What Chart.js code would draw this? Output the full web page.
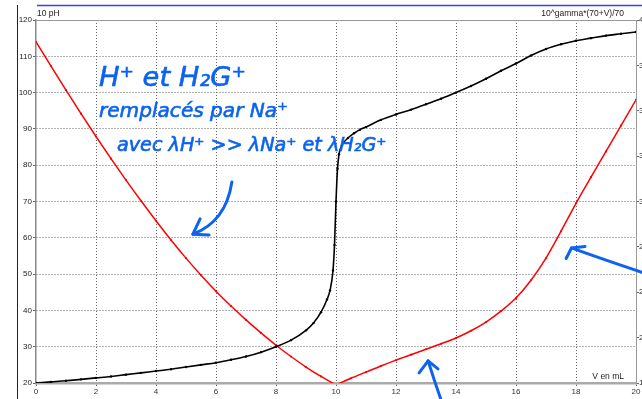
<!DOCTYPE html>
<html lang="fr">
<head>
<meta charset="UTF-8">
<title>Titrage pH et conductance</title>
<script src="https://cdn.jsdelivr.net/npm/chart.js@4.4.1/dist/chart.umd.min.js"></script>
<style>
    body{ margin:0; background:#fff; }
    #board{ width:642px; height:399px; }
</style>
</head>
<body>
<div id="board">
    <canvas id="chart1" width="642" height="399"></canvas>
</div>
<script>
    // volume versé (mL) et 10*pH
    const volPh = [0,0.5,1,1.5,2,2.5,3,3.5,4,4.5,5,5.5,6,6.5,7,7.5,8,8.5,9,9.25,9.5,9.7,9.8,9.9,9.95,
                   10,10.05,10.1,10.2,10.4,10.6,10.8,11,11.5,12,12.5,13,13.5,14,14.5,15,15.5,16,16.5,17,17.5,18,18.5,19,19.5,20];
    const ph10 = [20.0,20.3,20.6,21.0,21.4,21.8,22.3,22.8,23.3,23.8,24.4,25.0,25.6,26.4,27.3,28.5,30.0,31.8,34.5,36.5,39.5,43,45.5,51,58,
                  70,79,83,85.5,87.5,88.8,89.8,90.5,92.5,94,95.3,96.8,98.3,100,101.8,103.8,106,108,110.2,112,113.3,114.3,115,115.7,116.2,116.7];

    // volume versé (mL) et conductance corrigée (échelle gauche)
    const volCond = [0,0.5,1,1.5,2,2.5,3,3.5,4,4.5,5,5.5,6,6.5,7,7.5,8,8.5,9,9.5,10,
                     10.5,11,11.5,12,12.5,13,13.5,14,14.5,15,15.5,16,16.5,17,17.5,18,18.5,19,19.5,20];
    const cond = [114,107.3,100.7,94.2,87.9,81.8,75.9,70.2,64.7,59.4,54.4,49.7,45.3,41.2,37.4,33.8,30.4,27.3,24.4,21.8,19.5,
                  21.3,23.0,24.7,26.3,27.8,29.3,30.8,32.4,34.4,36.8,39.8,43.4,48.3,54.4,61.8,69.5,76.7,83.8,90.9,98];
    const vEquiv = 10;

    const xTicks = [0,2,4,6,8,10,12,14,16,18,20];
    const yTicks = [20,30,40,50,60,70,80,90,100,110,120];
    const y2Min = 1.99, y2Max = 4.02, y2Steps = 8;

    const txtFont = {family:'"Liberation Sans", Arial, sans-serif', size:8};

    // annotations manuscrites (en unités du graphe)
    const notes = [
        {text:'H⁺ et H₂G⁺', v:2.1, y:101.8, vEnd:7.0},
        {text:'remplacés par Na⁺', v:2.1, y:93.3, vEnd:8.4},
        {text:'avec λH⁺ >> λNa⁺ et λH₂G⁺', v:2.7, y:84.0, vEnd:11.7}
    ];
    const arrows = [
        {p0:[6.53,75.4], c:[6.33,64.4], p1:[5.23,61.0], h1:[5.47,65.2], h2:[5.77,60.8]},
        {p0:[13.5,15.4], c:[13.27,20.8], p1:[13.07,26.1], h1:[12.77,22.8], h2:[13.4,23.9]},
        {p0:[20.3,50.2], c:[18.7,54.6], p1:[17.85,57.2], h1:[17.67,54.3], h2:[18.3,57.6]}
    ];

    const decor = {
        id:'decor',
        afterDraw(chart){
            const ctx = chart.ctx, a = chart.chartArea;
            const sx = chart.scales.x, sy = chart.scales.y;
            const P = p => [sx.getPixelForValue(p[0]), sy.getPixelForValue(p[1])];
            ctx.save();
            // cadre haut
            ctx.strokeStyle = '#999'; ctx.lineWidth = 1;
            ctx.beginPath(); ctx.moveTo(a.left, a.top + 0.5); ctx.lineTo(a.right, a.top + 0.5); ctx.stroke();
            // barre bleue en haut, trait noir à gauche
            ctx.strokeStyle = '#3a3aff'; ctx.lineWidth = 1.5;
            ctx.beginPath(); ctx.moveTo(37, 5.5); ctx.lineTo(642, 5.5); ctx.stroke();
            ctx.strokeStyle = '#222'; ctx.lineWidth = 1;
            ctx.beginPath(); ctx.moveTo(17.5, 5); ctx.lineTo(17.5, 399); ctx.stroke();
            // titres d'axes
            ctx.fillStyle = '#222';
            ctx.font = '8.5px ' + txtFont.family;
            ctx.textBaseline = 'alphabetic';
            ctx.textAlign = 'left';
            ctx.fillText('10 pH', a.left + 1, 16);
            ctx.textAlign = 'right';
            ctx.fillText('10^gamma*(70+V)/70', a.right - 12, 16);
            ctx.fillText('V en mL', a.right - 12, a.bottom - 4);
            // annotations
            ctx.fillStyle = '#0b63f0';
            ctx.strokeStyle = '#0b63f0';
            ctx.textAlign = 'left';
            notes.forEach(n => {
                const [x0, y0] = P([n.v, n.y]);
                const x1 = sx.getPixelForValue(n.vEnd);
                ctx.font = 'italic 20px "DejaVu Sans", sans-serif';
                const w = ctx.measureText(n.text).width;
                const size = 20 * (x1 - x0) / w;
                ctx.font = 'italic ' + size.toFixed(1) + 'px "DejaVu Sans", sans-serif';
                ctx.fillText(n.text, x0, y0);
                ctx.lineWidth = 0.6;
                ctx.strokeText(n.text, x0, y0);
            });
            ctx.lineWidth = 3; ctx.lineCap = 'round'; ctx.lineJoin = 'round';
            arrows.forEach(ar => {
                const p0 = P(ar.p0), c = P(ar.c), p1 = P(ar.p1), h1 = P(ar.h1), h2 = P(ar.h2);
                ctx.beginPath();
                ctx.moveTo(p0[0], p0[1]);
                ctx.quadraticCurveTo(c[0], c[1], p1[0], p1[1]);
                ctx.stroke();
                ctx.beginPath();
                ctx.moveTo(h1[0], h1[1]); ctx.lineTo(p1[0], p1[1]); ctx.lineTo(h2[0], h2[1]);
                ctx.stroke();
            });
            ctx.restore();
        }
    };

    const condPts = volCond.map((v, i) => ({x:v, y:cond[i]}));
    const redStyle = {
        showLine:true, borderColor:'#ff0000', backgroundColor:'#ff0000',
        borderWidth:1.5, pointRadius:1.1, pointBorderWidth:0,
        cubicInterpolationMode:'monotone'
    };

    const ctx = document.getElementById('chart1').getContext('2d');
    new Chart(ctx, {
        type:'scatter',
        data:{
            datasets:[
                {
                    label:'10 pH',
                    data: volPh.map((v, i) => ({x:v, y:ph10[i]})),
                    showLine:true,
                    borderColor:'#000', backgroundColor:'#000',
                    borderWidth:1.6, pointRadius:1.2, pointBorderWidth:0,
                    cubicInterpolationMode:'monotone'
                },
                // conductance : deux branches pour garder la cassure à l'équivalence
                Object.assign({label:'conductance', data: condPts.filter(p => p.x <= vEquiv)}, redStyle),
                Object.assign({label:'conductance (après)', data: condPts.filter(p => p.x >= vEquiv)}, redStyle)
            ]
        },
        options:{
            responsive:false,
            animation:false,
            devicePixelRatio:1,
            layout:{ padding:{top:20, left:0, right:0, bottom:0} },
            plugins:{ legend:{display:false}, tooltip:{enabled:false} },
            scales:{
                x:{
                    type:'linear', position:'bottom', min:0, max:20,
                    afterBuildTicks: s => { s.ticks = xTicks.map(v => ({value:v})); },
                    afterFit: s => { s.height = 16; },
                    ticks:{ font:txtFont, color:'#333', padding:1, maxRotation:0, autoSkip:false },
                    grid:{
                        color: c => (c.tick && (c.tick.value === 0 || c.tick.value === 20)) ? 'rgba(0,0,0,0)' : '#666',
                        lineWidth:1, tickLength:3, tickColor:'#666'
                    },
                    border:{ color:'#aaa', width:2.5, dash:[1,2] }
                },
                y:{
                    position:'left', min:20, max:120,
                    afterBuildTicks: s => { s.ticks = yTicks.map(v => ({value:v})); },
                    afterFit: s => { s.width = 36; },
                    ticks:{ font:txtFont, color:'#222', padding:1 },
                    grid:{
                        color: c => (c.tick && (c.tick.value === 20 || c.tick.value === 120)) ? 'rgba(0,0,0,0)' : '#666',
                        lineWidth:1, tickLength:3, tickColor:'#666'
                    },
                    border:{ color:'#888', width:1.5, dash:[1,2] }
                },
                y2:{
                    position:'right', min:y2Min, max:y2Max,
                    afterBuildTicks: s => {
                        const t = [];
                        for (let i = 0; i <= y2Steps; i++) t.push({value: y2Min + i * (y2Max - y2Min) / y2Steps});
                        s.ticks = t;
                    },
                    afterFit: s => { s.width = 6; },
                    ticks:{ font:txtFont, color:'#222', padding:0, callback: v => v.toFixed(2) },
                    grid:{ drawOnChartArea:false, tickLength:3, tickColor:'#666' },
                    border:{ color:'#999', width:1 }
                }
            }
        },
        plugins:[decor]
    });
</script>
</body>
</html>
